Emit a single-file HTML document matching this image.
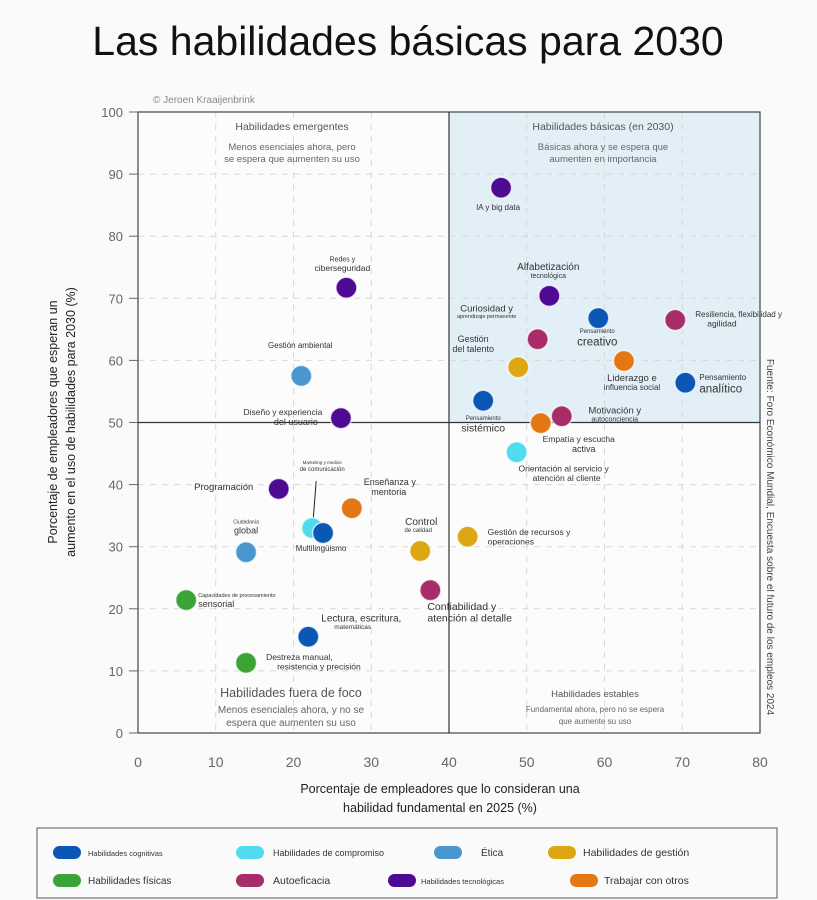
<!DOCTYPE html>
<html><head><meta charset="utf-8"><style>
html,body{margin:0;padding:0;background:#fafafa;}
svg{display:block;font-family:"Liberation Sans",sans-serif;}
</style></head><body>
<svg id="chart" width="817" height="900" viewBox="0 0 817 900">
<rect x="0" y="0" width="817" height="900" fill="#fafafa"/>
<text x="408" y="55" text-anchor="middle" font-size="41" fill="#111">Las habilidades básicas para 2030</text>
<text x="153" y="103" font-size="10" fill="#888">© Jeroen Kraaijenbrink</text>
<g id="plot"></g>
</svg>
<script>
const categories = ["Habilidades cognitivas","Habilidades de compromiso","Ética","Habilidades de gestión","Habilidades físicas","Autoeficacia","Habilidades tecnológicas","Trabajar con otros"];
const colors = ["#0a57b5","#4fdcf0","#4a97cf","#dca713","#3ca336","#a82c6a","#4e0a93","#e27713"];
const skillNames = ["IA y big data","Redes y ciberseguridad","Alfabetización tecnológica","Pensamiento creativo","Resiliencia, flexibilidad y agilidad","Curiosidad y aprendizaje permanente","Gestión ambiental","Gestión del talento","Liderazgo e influencia social","Pensamiento analítico","Pensamiento sistémico","Diseño y experiencia del usuario","Motivación y autoconciencia","Empatía y escucha activa","Orientación al servicio y atención al cliente","Programación","Enseñanza y mentoria","Marketing y medios de comunicación","Multilingüismo","Ciudadanía global","Control de calidad","Gestión de recursos y operaciones","Confiabilidad y atención al detalle","Capacidades de procesamiento sensorial","Lectura, escritura, matemáticas","Destreza manual, resistencia y precisión"];
const xValues = [46.7,26.8,52.9,59.2,69.1,51.4,21.0,48.9,62.5,70.4,44.4,26.1,54.5,51.8,48.7,18.1,27.5,22.4,23.8,13.9,36.3,42.4,37.6,6.2,21.9,13.9];
const yValues = [87.8,71.7,70.4,66.8,66.5,63.4,57.5,58.9,59.9,56.4,53.5,50.7,51.0,49.9,45.2,39.3,36.2,33.0,32.2,29.1,29.3,31.6,23.0,21.4,15.5,11.3];
const skillCategory = [6,6,6,0,5,5,2,3,7,0,0,6,5,7,1,6,7,1,0,2,3,3,5,4,0,4];
const xTicks = [0,10,20,30,40,50,60,70,80];
const yTicks = [0,10,20,30,40,50,60,70,80,90,100];

// label layout: [dx, dy, anchor, [[text,size],...]] relative to point (layout, not data)
const labelLayout = [
 [-3,22,"middle",[["IA y big data",8]]],
 [-4,-26,"middle",[["Redes y",7],["ciberseguridad",8.5]]],
 [-1,-26,"middle",[["Alfabetización",10],["tecnológica",7]]],
 [-1,15,"middle",[["Pensamiento",6],["creativo",11.5]]],
 [20,-3,"start",[["Resiliencia, flexibilidad y",8],["agilidad",8.5,12]]],
 [-51,-28,"middle",[["Curiosidad y",9.5],["aprendizaje permanente",5.5]]],
 [-1,-28,"middle",[["Gestión ambiental",8]]],
 [-45,-25,"middle",[["Gestión",9],["del talento",9]]],
 [8,20,"middle",[["Liderazgo e",9.5],["influencia social",8]]],
 [14,-3,"start",[["Pensamiento",8],["analítico",11.5]]],
 [0,19,"middle",[["Pensamiento",6],["sistémico",10.5]]],
 [-58,-3,"middle",[["Diseño y experiencia",8.5],["del usuario",9,13]]],
 [53,-3,"middle",[["Motivación y",9.5],["autoconciencia",7]]],
 [38,19,"middle",[["Empatía y escucha",8.5],["activa",9,5]]],
 [47,19,"middle",[["Orientación al servicio y",8.5],["atención al cliente",8.5,3]]],
 [-55,1,"middle",[["Programación",9.5]]],
 [38,-23,"middle",[["Enseñanza y",9],["mentoria",9,-1]]],
 [10,-64,"middle",[["Marketing y medios",4.5],["de comunicación",6]]],
 [-2,18,"middle",[["Multilingüismo",8]]],
 [0,-29,"middle",[["Ciudadanía",5],["global",9]]],
 [1,-26,"middle",[["Control",10],["de calidad",6,-3]]],
 [20,-2,"start",[["Gestión de recursos y",8.5],["operaciones",8.5]]],
 [-3,20,"start",[["Confiabilidad y",10.5],["atención al detalle",10.5]]],
 [12,-3,"start",[["Capacidades de procesamiento",5.5],["sensorial",9]]],
 [13,-15,"start",[["Lectura, escritura,",10],["matemáticas",6.5,13]]],
 [20,-3,"start",[["Destreza manual,",8.5],["resistencia y precisión",8.5,11]]]
];

const NS="http://www.w3.org/2000/svg";
const X0=138,X1=760,Y0=733,Y1=112;
const sx=v=>X0+(v-0)/(80-0)*(X1-X0);
const sy=v=>Y0-(v-0)/(100-0)*(Y0-Y1);
const g=document.getElementById('plot');
function mk(tag,attrs,parent){const e=document.createElementNS(NS,tag);for(const k in attrs)e.setAttribute(k,attrs[k]);(parent||g).appendChild(e);return e;}
function txt(x,y,s,size,fill,anchor,parent){const t=mk('text',{x:x,y:y,'font-size':size,fill:fill,'text-anchor':anchor||'middle'},parent);t.textContent=s;return t;}

// backgrounds
const pbg=mk('rect',{x:X0,y:Y1,width:X1-X0,height:Y0-Y1,fill:"#fcfcfc"});


const quad=mk('rect',{x:sx(40),y:Y1,width:X1-sx(40),height:sy(50)-Y1,fill:"#e3eff7"});



// grid
xTicks.forEach(v=>{if(v>0&&v<80&&v!==40){const l=mk('line',{x1:sx(v),x2:sx(v),y1:Y1,y2:Y0,stroke:"#d8d8d8","stroke-dasharray":"6 6"});}});
yTicks.forEach(v=>{if(v>0&&v<100&&v!==50){const l=mk('line',{x1:X0,x2:X1,y1:sy(v),y2:sy(v),stroke:"#d8d8d8","stroke-dasharray":"6 6"});}});
// frame & quadrant dividers
const fr=mk('rect',{x:X0,y:Y1,width:X1-X0,height:Y0-Y1,fill:"none",stroke:"#444","stroke-width":1.2});


const vd=mk('line',{x1:sx(40),x2:sx(40),y1:Y1,y2:Y0,stroke:"#333","stroke-width":1.2});


const hd=mk('line',{x1:X0,x2:X1,y1:sy(50),y2:sy(50),stroke:"#333","stroke-width":1.2});



// ticks
yTicks.forEach(v=>{const t=txt(123,sy(v)+5,String(v),13,"#666","end");mk('line',{x1:129,x2:X0,y1:sy(v),y2:sy(v),stroke:"#666"});});
xTicks.forEach(v=>{const t=txt(sx(v),767,String(v),14,"#666","middle");});

// axis titles
const xt=mk('g',{});


txt(440,793,"Porcentaje de empleadores que lo consideran una",12.5,"#222","middle",xt);
txt(440,812,"habilidad fundamental en 2025 (%)",12.5,"#222","middle",xt);
const yt=mk('g',{transform:"translate(61,422) rotate(-90)"});


txt(0,-4,"Porcentaje de empleadores que esperan un",12.5,"#222","middle",yt);
txt(0,14,"aumento en el uso de habilidades para 2030 (%)",12.5,"#222","middle",yt);
const src=mk('g',{transform:"translate(767,537) rotate(90)"});


txt(0,0,"Fuente: Foro Económico Mundial, Encuesta sobre el futuro de los empleos 2024",10,"#444","middle",src);

// quadrant captions
function caption(name,x,lines){const q=mk('g',{});lines.forEach(l=>txt(x,l[1],l[0],l[2],l[3]||"#666","middle",q));}
caption('emerging-caption',292,[["Habilidades emergentes",130,10.5,"#555"],["Menos esenciales ahora, pero",150,9.5],["se espera que aumenten su uso",162,9.5]]);
caption('core-caption',603,[["Habilidades básicas (en 2030)",130,10.5,"#555"],["Básicas ahora y se espera que",150,9.5],["aumenten en importancia",162,9.5]]);
caption('out-of-focus-caption',291,[["Habilidades fuera de foco",697,12.5,"#555"],["Menos esenciales ahora, y no se",713,10],["espera que aumenten su uso",726,10]]);
caption('stable-caption',595,[["Habilidades estables",697,9.5,"#555"],["Fundamental ahora, pero no se espera",712,8],["que aumente su uso",724,8]]);

// leader line for marketing
const ll=mk('line',{x1:sx(xValues[17])+4,y1:sy(yValues[17])-47,x2:sx(xValues[17])+1,y2:sy(yValues[17])-8,stroke:"#222","stroke-width":1});



// points
skillNames.forEach((n,i)=>{
  const c=mk('circle',{cx:sx(xValues[i]),cy:sy(yValues[i]),r:10.5,fill:colors[skillCategory[i]],stroke:"rgba(255,255,255,0.7)","stroke-width":1.5});
  
  
});
// labels
skillNames.forEach((n,i)=>{
  const L=labelLayout[i];const px=sx(xValues[i]),py=sy(yValues[i]);
  const lg=mk('g',{});
  
  
  let y=py+L[1];
  L[3].forEach((ln,j)=>{ if(j>0) y+=ln[1]+1; txt(px+L[0]+(ln[2]||0),y,ln[0],ln[1],"#333",L[2],lg); });
});

// legend
const lgBox=mk('rect',{x:37,y:828,width:740,height:70,fill:"#fafafa",stroke:"#555","stroke-width":1});


const legX=[53,236,434,548,53,236,388,570];
const legTextX=[88,273,481,583,88,273,421,604];
const legY=[852,852,852,852,880,880,880,880];
const legSize=[7.5,9,10,10.5,10,10.5,7.5,10.5];
categories.forEach((c,i)=>{
  const e=mk('g',{});
  
  
  mk('rect',{x:legX[i],y:legY[i]-6,width:28,height:13,rx:6.5,fill:colors[i]},e);
  txt(legTextX[i],legY[i]+4,c,legSize[i],"#333","start",e);
});
</script>
</body></html>
